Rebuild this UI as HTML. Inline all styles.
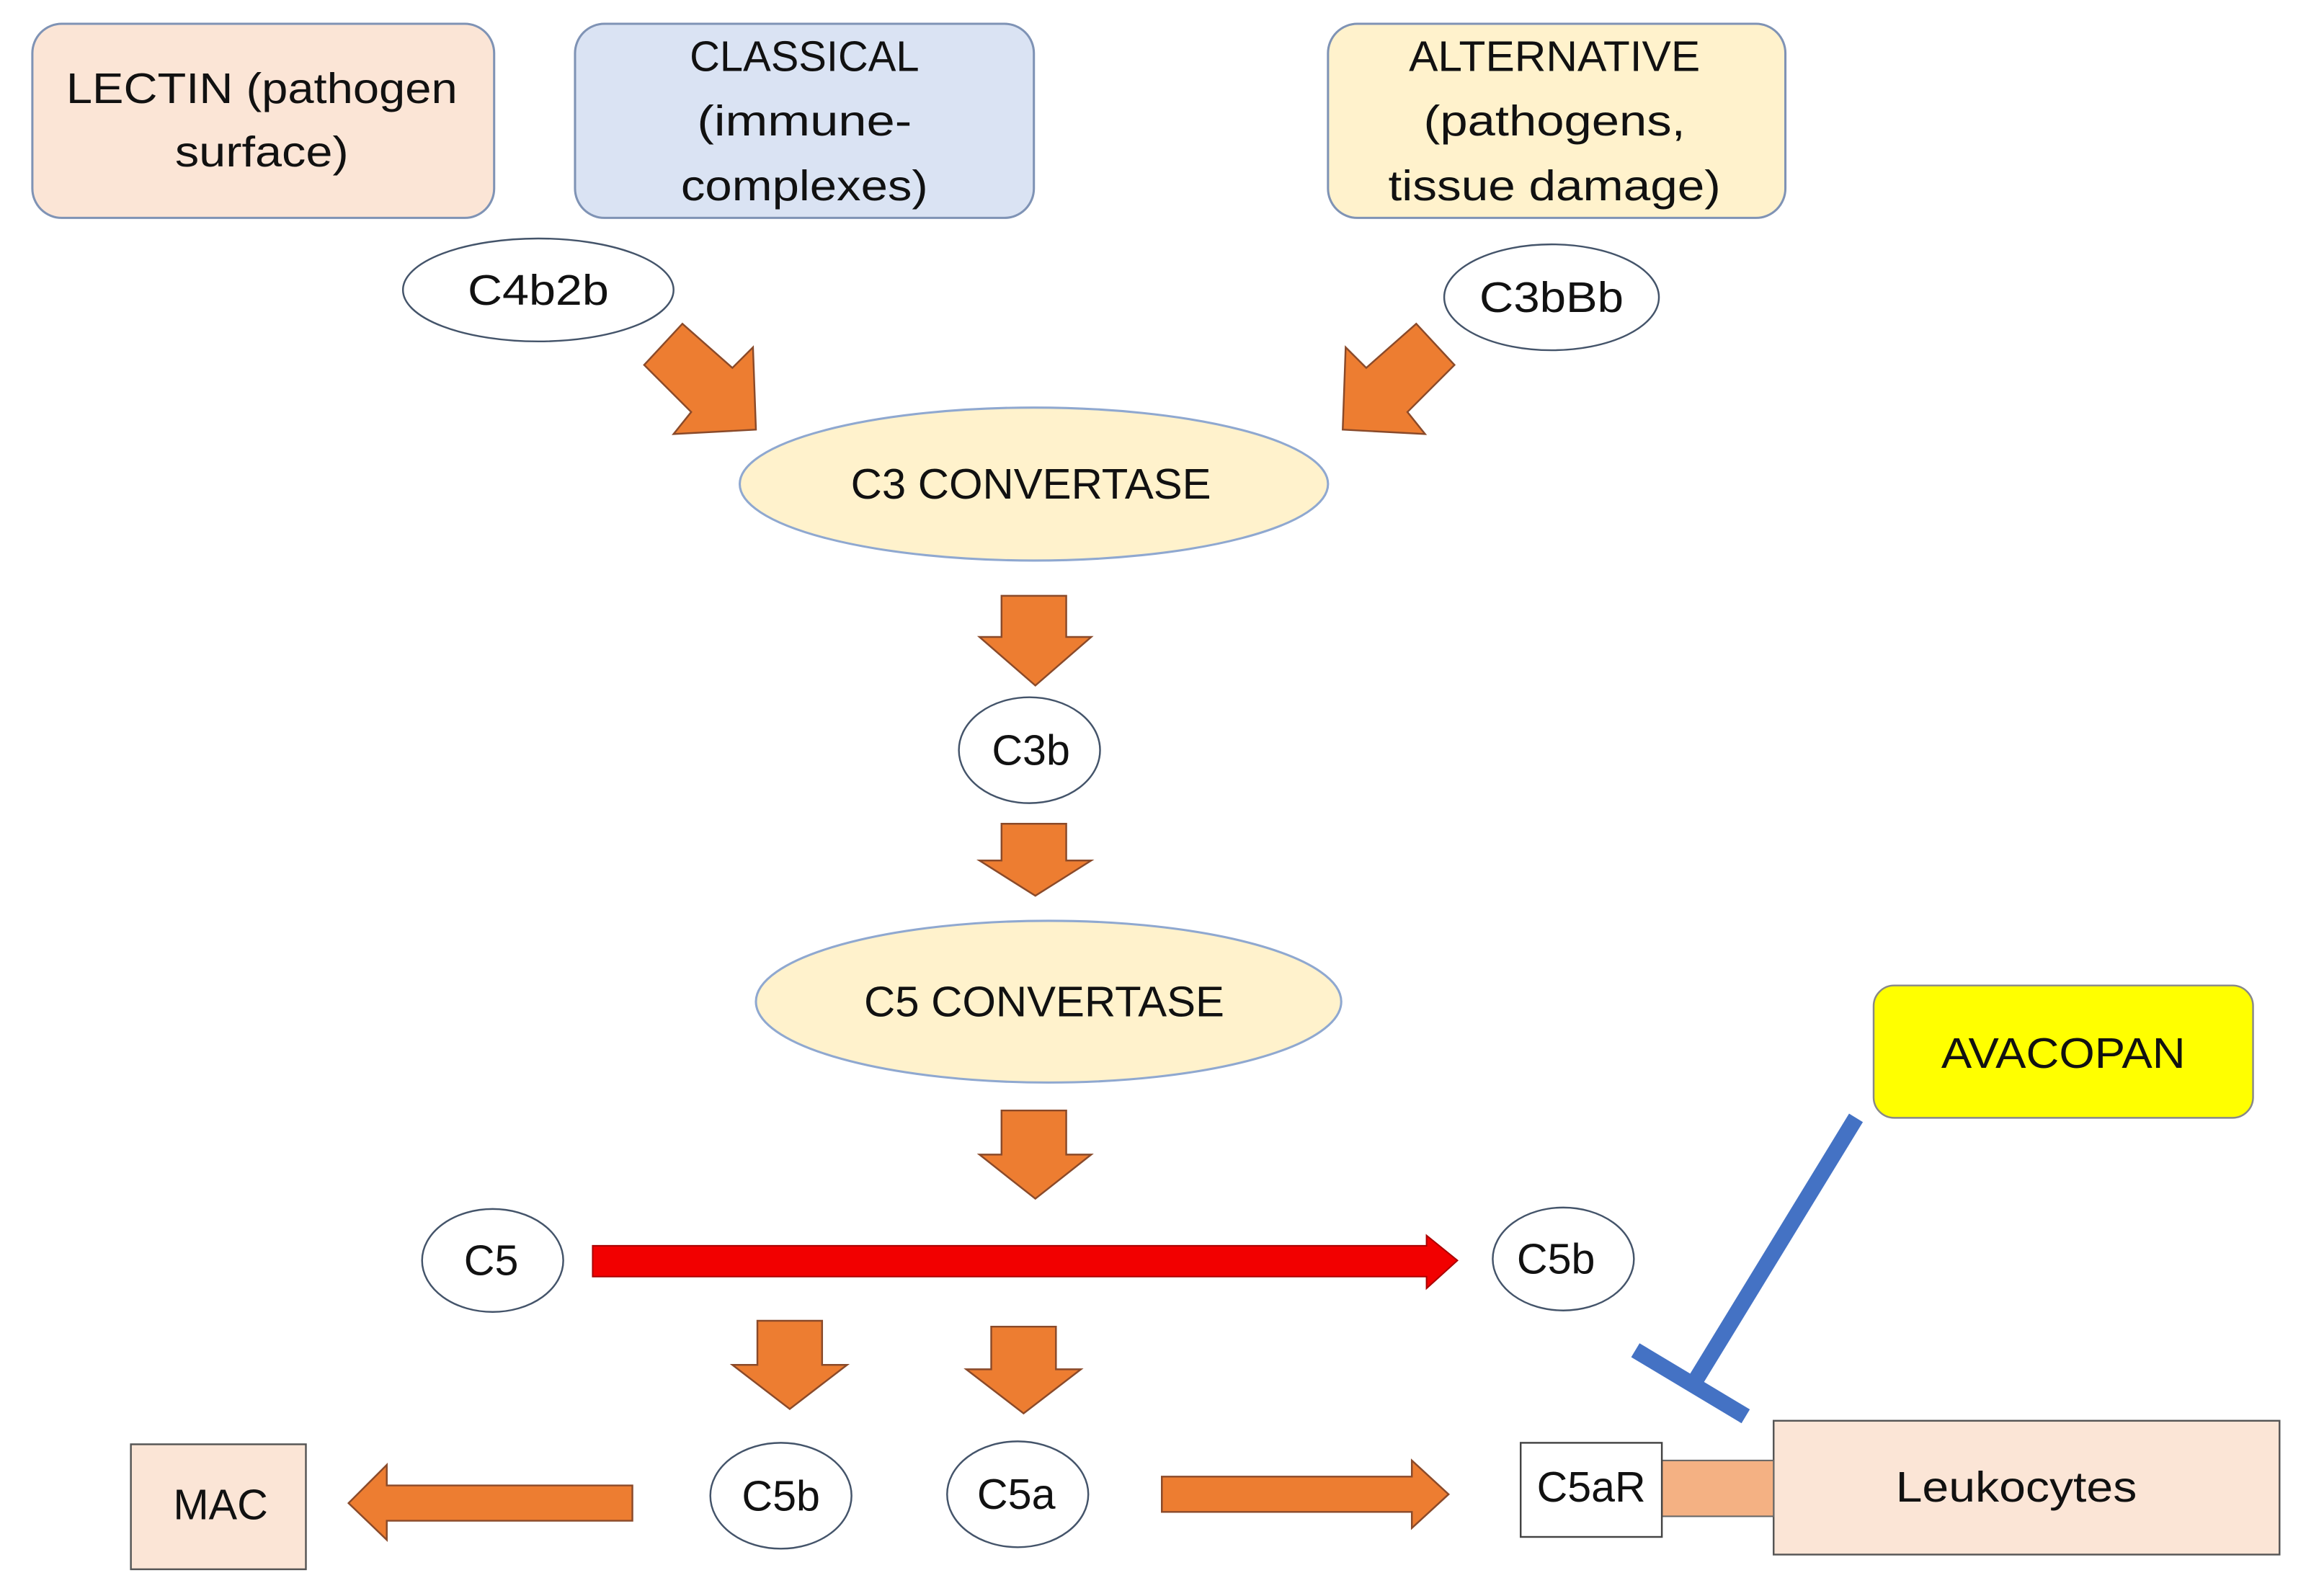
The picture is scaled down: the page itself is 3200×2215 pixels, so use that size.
<!DOCTYPE html>
<html><head><meta charset="utf-8"><style>html,body{margin:0;padding:0;background:#fff}svg{display:block}</style></head>
<body>
<svg width="3200" height="2215" viewBox="0 0 1568 1085" xmlns="http://www.w3.org/2000/svg" font-family="'Liberation Sans', sans-serif" font-size="29" text-anchor="middle" fill="#111">
<g stroke="#7f93b5" stroke-width="1.5">
<rect x="22" y="16" width="314" height="132" rx="20" fill="#fbe5d6"/>
<rect x="391" y="16" width="312" height="132" rx="20" fill="#dae3f3"/>
<rect x="903" y="16" width="311" height="132" rx="20" fill="#fff2cc"/>
</g>
<g stroke="none" fill="#111">
<text x="178" y="70" textLength="266" lengthAdjust="spacingAndGlyphs">LECTIN (pathogen</text>
<text x="178" y="113" textLength="118" lengthAdjust="spacingAndGlyphs">surface)</text>
<text x="547" y="48" textLength="156" lengthAdjust="spacingAndGlyphs">CLASSICAL</text>
<text x="547" y="92" textLength="146" lengthAdjust="spacingAndGlyphs">(immune-</text>
<text x="547" y="136" textLength="168" lengthAdjust="spacingAndGlyphs">complexes)</text>
<text x="1057" y="48" textLength="198" lengthAdjust="spacingAndGlyphs">ALTERNATIVE</text>
<text x="1057" y="92" textLength="178" lengthAdjust="spacingAndGlyphs">(pathogens,</text>
<text x="1057" y="136" textLength="226" lengthAdjust="spacingAndGlyphs">tissue damage)</text>
</g>
<g fill="#fff" stroke="#44546a" stroke-width="1.2">
<ellipse cx="366" cy="197" rx="92" ry="35"/>
<ellipse cx="1055" cy="202" rx="73" ry="36"/>
<ellipse cx="700" cy="510" rx="48" ry="36"/>
<ellipse cx="335" cy="857" rx="48" ry="35"/>
<ellipse cx="1063" cy="856" rx="48" ry="35"/>
<ellipse cx="531" cy="1017" rx="48" ry="36"/>
<ellipse cx="692" cy="1016" rx="48" ry="36"/>
</g>
<g fill="#fff2cc" stroke="#8fa8d0" stroke-width="1.5">
<ellipse cx="703" cy="329" rx="200" ry="52"/>
<ellipse cx="713" cy="681" rx="199" ry="55"/>
</g>
<g fill="#ed7d31" stroke="#8a4a2a" stroke-width="1.2">
<polygon points="464,220 498,250 512,236 514,292 458,295 470,280 438,248"/>
<polygon points="963,220 929,250 915,236 913,292 969,295 957,280 989,248"/>
<polygon points="681,405 725,405 725,433 742,433 704,466 666,433 681,433"/>
<polygon points="681,560 725,560 725,585 742,585 704,609 666,585 681,585"/>
<polygon points="681,755 725,755 725,785 742,785 704,815 666,785 681,785"/>
<polygon points="515,898 559,898 559,928 576,928 537,958 498,928 515,928"/>
<polygon points="674,902 718,902 718,931 735,931 696,961 657,931 674,931"/>
<polygon points="430,1010 263,1010 263,996 237,1022 263,1047 263,1034 430,1034"/>
<polygon points="790,1004 960,1004 960,993 985,1016 960,1039 960,1028 790,1028"/>
</g>
<polygon points="403,847 970,847 970,840 991,857 970,876 970,868 403,868" fill="#f20000" stroke="#a00" stroke-width="1"/>
<g fill="#111">
<text x="366" y="207" textLength="96" lengthAdjust="spacingAndGlyphs">C4b2b</text>
<text x="1055" y="212" textLength="98" lengthAdjust="spacingAndGlyphs">C3bBb</text>
<text x="701" y="339" textLength="245" lengthAdjust="spacingAndGlyphs">C3 CONVERTASE</text>
<text x="701" y="520">C3b</text>
<text x="710" y="691" textLength="245" lengthAdjust="spacingAndGlyphs">C5 CONVERTASE</text>
<text x="334" y="867">C5</text>
<text x="1058" y="866">C5b</text>
<text x="531" y="1027">C5b</text>
<text x="691" y="1026">C5a</text>
</g>
<rect x="89" y="982" width="119" height="85" fill="#fbe5d6" stroke="#555" stroke-width="1.2"/>
<text x="150" y="1033">MAC</text>
<rect x="1274" y="670" width="258" height="90" rx="14" fill="#ffff00" stroke="#888" stroke-width="1.2"/>
<text x="1403" y="726" textLength="166" lengthAdjust="spacingAndGlyphs">AVACOPAN</text>
<line x1="1262" y1="760" x2="1152" y2="940" stroke="#4472c4" stroke-width="11"/>
<line x1="1112" y1="918" x2="1187" y2="963" stroke="#4472c4" stroke-width="11"/>
<rect x="1206" y="966" width="344" height="91" fill="#fbe5d6" stroke="#555" stroke-width="1.2"/>
<text x="1371" y="1021" textLength="164" lengthAdjust="spacingAndGlyphs">Leukocytes</text>
<rect x="1130" y="993" width="76" height="38" fill="#f4b183" stroke="#666" stroke-width="1"/>
<rect x="1034" y="981" width="96" height="64" fill="#fff" stroke="#444" stroke-width="1.2"/>
<text x="1082" y="1021" textLength="74" lengthAdjust="spacingAndGlyphs">C5aR</text>
</svg>
</body></html>
